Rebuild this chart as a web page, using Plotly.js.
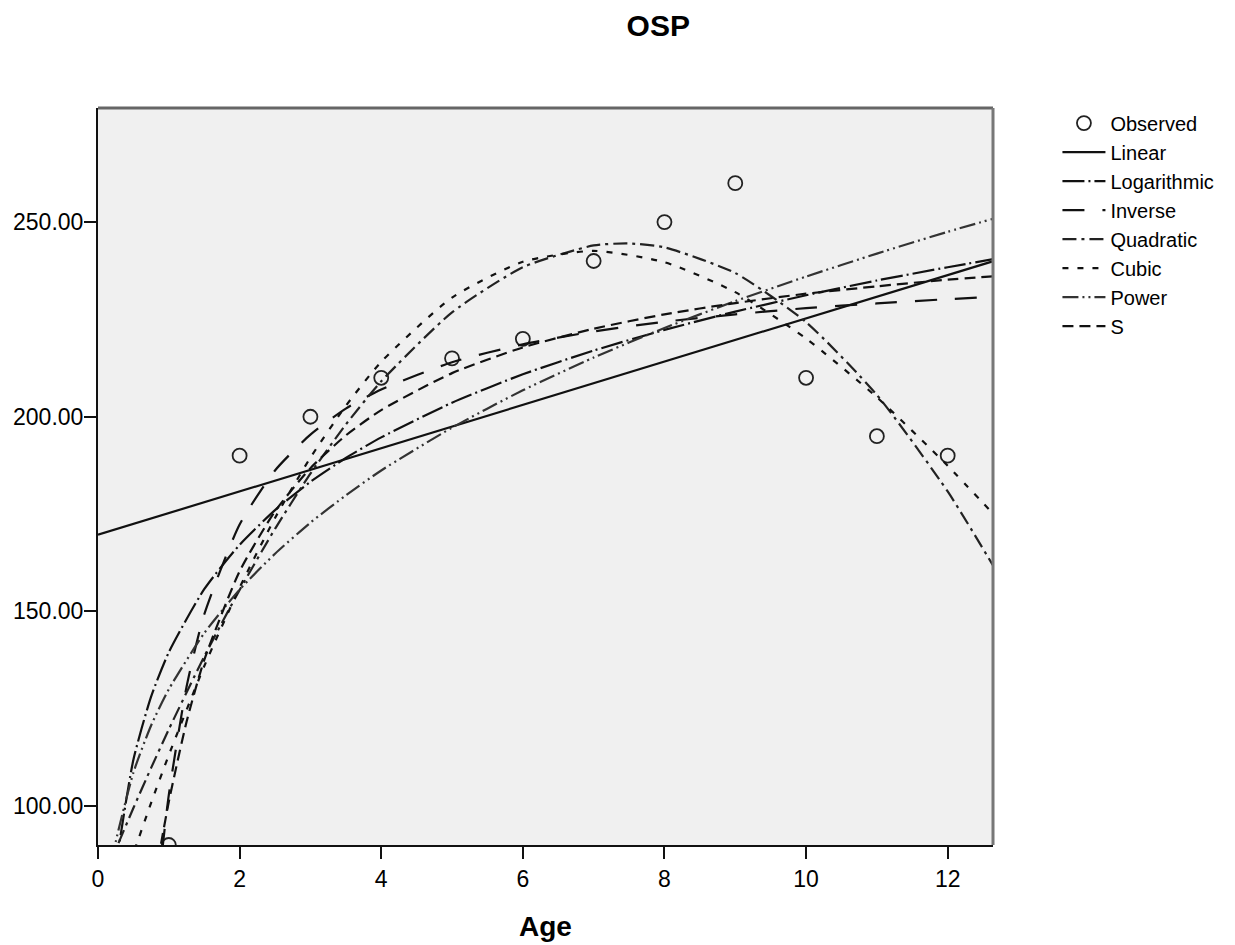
<!DOCTYPE html>
<html>
<head>
<meta charset="utf-8">
<script src="https://cdn.plot.ly/plotly-3.0.1.min.js"></script>
<style>
  html, body { margin: 0; padding: 0; background: #ffffff; }
  #chart { width: 1235px; height: 945px; }
</style>
</head>
<body>
<div id="chart"></div>
<script>
// Observed data
const obsAge = [1, 2, 3, 4, 5, 6, 7, 8, 9, 10, 11, 12];
const obsOSP = [90, 190, 200, 210, 215, 220, 240, 250, 260, 210, 195, 190];

// Fitted curves, values
const linearAge = [0, 12.65];
const linearOSP = [169.7, 240.0];

const logAge = [0.25, 0.5, 0.75, 1, 1.5, 2, 2.5, 3, 3.5, 4, 5, 6, 7, 8, 9, 10, 11, 12, 12.65];
const logOSP = [84.3, 111.9, 128.1, 139.5, 155.7, 167.1, 176.0, 183.3, 189.4, 194.7, 203.6, 210.9, 217.0, 222.3, 227.0, 231.2, 235.0, 238.4, 240.5];

const invAge = [0.85, 0.9, 1, 1.25, 1.5, 2, 2.5, 3, 3.5, 4, 5, 6, 7, 8, 9, 10, 11, 12, 12.65];
const invOSP = [78.3, 87.4, 102.9, 130.6, 149.2, 172.3, 186.2, 195.4, 202.1, 207.0, 214.0, 218.6, 221.9, 224.4, 226.3, 227.9, 229.1, 230.2, 230.8];

const quadAge = [0, 0.25, 0.5, 0.75, 1, 1.5, 2, 2.5, 3, 3.5, 4, 5, 6, 7, 7.5, 8, 9, 10, 11, 12, 12.65];
const quadOSP = [77.7, 88.8, 99.5, 109.8, 119.7, 138.4, 155.5, 171.2, 185.4, 198.0, 209.1, 226.8, 238.4, 244.0, 244.5, 243.5, 236.9, 224.3, 205.6, 180.8, 161.5];

const cubicAge = [0.25, 0.5, 0.75, 1, 1.5, 2, 2.5, 3, 3.5, 4, 5, 6, 7, 8, 9, 10, 11, 12, 12.65];
const cubicOSP = [74.1, 87.8, 100.8, 113.1, 135.9, 156.1, 174.0, 189.5, 202.8, 214.1, 230.6, 239.8, 242.6, 239.7, 232.0, 220.1, 205.0, 187.4, 174.9];

const powerAge = [0.2, 0.25, 0.5, 0.75, 1, 1.5, 2, 2.5, 3, 3.5, 4, 5, 6, 7, 8, 9, 10, 11, 12, 12.65];
const powerOSP = [85.7, 90.8, 108.6, 120.7, 130.0, 144.4, 155.6, 164.8, 172.8, 179.8, 186.2, 197.2, 206.8, 215.2, 222.8, 229.7, 236.0, 241.9, 247.5, 250.9];

const sAge = [0.85, 0.9, 1, 1.25, 1.5, 2, 2.5, 3, 3.5, 4, 5, 6, 7, 8, 9, 10, 11, 12, 12.65];
const sOSP = [86.0, 91.3, 101.1, 121.6, 137.5, 160.3, 175.7, 186.8, 195.2, 201.7, 211.2, 217.8, 222.6, 226.3, 229.2, 231.6, 233.5, 235.2, 236.1];

const yTicks = [100, 150, 200, 250];
const xTicks = [0, 2, 4, 6, 8, 10, 12];

const FONT = '"Liberation Sans", Arial, sans-serif';

function curve(name, x, y, dash, color) {
  return {
    type: 'scatter', mode: 'lines', name: name, x: x, y: y,
    line: { color: color || '#111', width: 2.2, dash: dash, shape: 'spline', smoothing: 0.6 }
  };
}

const traces = [
  {
    type: 'scatter', mode: 'markers', name: 'Observed', x: obsAge, y: obsOSP,
    marker: { symbol: 'circle-open', size: 14, color: '#222', line: { width: 1.8, color: '#222' } },
    cliponaxis: true
  },
  { type: 'scatter', mode: 'lines', name: 'Linear', x: linearAge, y: linearOSP, line: { color: '#111', width: 2.2 } },
  curve('Logarithmic', logAge, logOSP, '22px,4px,2px,4px', '#111'),
  curve('Inverse', invAge, invOSP, '22px,18px', '#111'),
  curve('Quadratic', quadAge, quadOSP, '14px,5px,3px,5px', '#222'),
  curve('Cubic', cubicAge, cubicOSP, '6px,9px', '#111'),
  curve('Power', powerAge, powerOSP, '16px,4px,2px,4px,2px,4px', '#333'),
  curve('S', sAge, sOSP, '11px,6px', '#111')
];

const layout = {
  width: 1235, height: 945,
  margin: { l: 98, r: 242, t: 108, b: 100, pad: 0 },
  paper_bgcolor: '#ffffff',
  plot_bgcolor: '#f0f0f0',
  font: { family: FONT, color: '#000', size: 20 },
  title: {
    text: '<b>OSP</b>',
    font: { family: FONT, size: 30, color: '#000' },
    xref: 'container', yref: 'container', x: 0.533, y: 0.973,
    xanchor: 'center', yanchor: 'middle'
  },
  xaxis: {
    range: [0, 12.64],
    tickvals: xTicks,
    ticktext: xTicks.map(String),
    ticks: 'outside', ticklen: 12, tickwidth: 2, tickcolor: '#111',
    showgrid: false, zeroline: false,
    showline: true, linecolor: '#111', linewidth: 2,
    tickfont: { family: FONT, size: 23, color: '#000' },
    title: { text: '<b>Age</b>', font: { family: FONT, size: 28, color: '#000' }, standoff: 26 }
  },
  yaxis: {
    range: [90, 279.3],
    tickvals: yTicks,
    ticktext: yTicks.map(v => v.toFixed(2)),
    ticks: 'outside', ticklen: 12, tickwidth: 2, tickcolor: '#111',
    ticklabelstandoff: -4,
    showgrid: false, zeroline: false,
    showline: true, linecolor: '#111', linewidth: 2,
    tickfont: { family: FONT, size: 23, color: '#000' }
  },
  shapes: [
    { type: 'line', xref: 'paper', yref: 'paper', x0: 0, x1: 1, y0: 1, y1: 1, line: { color: '#666', width: 3 } },
    { type: 'line', xref: 'paper', yref: 'paper', x0: 1, x1: 1, y0: 0, y1: 1, line: { color: '#777', width: 3 } }
  ],
  showlegend: true,
  legend: {
    x: 1.072, y: 1.006, xanchor: 'left', yanchor: 'top',
    bgcolor: 'rgba(0,0,0,0)', borderwidth: 0,
    font: { family: FONT, size: 20, color: '#000' },
    tracegroupgap: 0, itemwidth: 43
  }
};

Plotly.newPlot('chart', traces, layout, { displayModeBar: false, staticPlot: true });
</script>
</body>
</html>
